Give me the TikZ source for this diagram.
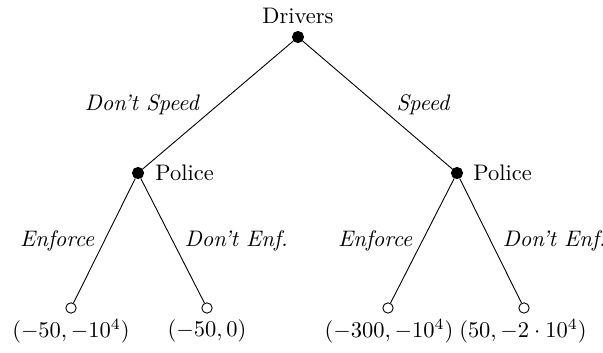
\documentclass[tikz,border=0pt]{standalone}
\begin{document}
\begin{tikzpicture}[x=0.445pt,y=-0.445pt,
  solid/.style={circle,fill=black,draw=black,inner sep=0pt,minimum size=5pt},
  hollow/.style={circle,fill=white,draw=black,inner sep=0pt,minimum size=4.6pt},
  txt/.style={inner sep=0pt},
  act/.style={inner sep=0pt,font=\itshape},
  edge/.style={draw=black,line width=0.4pt}]
\useasboundingbox (0,0) rectangle (603,352);
\node[solid] (r) at (298,37) {};
\node[solid] (a) at (138,173) {};
\node[solid] (b) at (457,173) {};
\node[hollow] (a1) at (71,308) {};
\node[hollow] (a2) at (207,308) {};
\node[hollow] (b1) at (388,308) {};
\node[hollow] (b2) at (524,308) {};
\node[txt] (rl) at (298,16) {Drivers};
\node[txt,anchor=west] (al) at (155,173) {Police};
\node[txt,anchor=west] (bl) at (473,173) {Police};
\draw[edge] (r) -- node[act,midway,anchor=east,xshift=-8.3pt] {Don't Speed} (a);
\draw[edge] (r) -- node[act,midway,anchor=west,xshift=8.3pt] {Speed} (b);
\draw[edge] (a) -- node[act,midway,anchor=east,xshift=-4.3pt] {Enforce} (a1);
\draw[edge] (a) -- node[act,midway,anchor=west,xshift=5.3pt] {Don't Enf.} (a2);
\draw[edge] (b) -- node[act,midway,anchor=east,xshift=-4.3pt] {Enforce} (b1);
\draw[edge] (b) -- node[act,midway,anchor=west,xshift=5.3pt] {Don't Enf.} (b2);
\node[txt] (p1) at (71,331) {$(-50,-10^4)$};
\node[txt] (p2) at (207,331) {$(-50,0)$};
\node[txt] (p3) at (389,331) {$(-300,-10^4)$};
\node[txt] (p4) at (523,331) {$(50,-2\cdot 10^4)$};
\end{tikzpicture}
\end{document}
